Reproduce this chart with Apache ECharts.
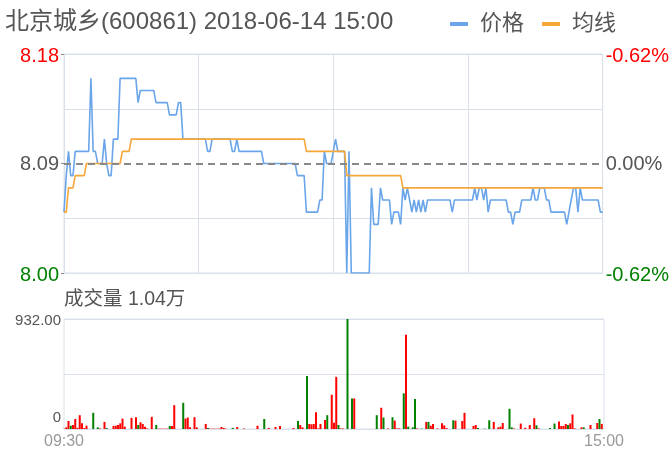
<!DOCTYPE html>
<html><head><meta charset="utf-8">
<script src="https://cdn.jsdelivr.net/npm/echarts@6/dist/echarts.min.js"></script>
<style>html,body{margin:0;padding:0;background:#fff}#c{width:672px;height:455px}</style>
</head><body><div id="c"></div>
<script>
const titleText = '北京城乡(600861) 2018-06-14 15:00';
const volumeTitle = '成交量 1.04万';
const seriesNames = ['价格', '均线'];
const prevClose = 8.09;
const priceMin = 8.00, priceMax = 8.18;
const priceTickLabels = ['8.00', '8.09', '8.18'];
const pctTickLabels = ['-0.62%', '0.00%', '-0.62%'];
const volMax = 932;
const volTickLabels = ['0', '', '932.00'];
const timeLabels = ['09:30', '15:00'];

// minute categories 09:30-11:30, 13:01-15:00
const times = [];
function pad(n){return (n<10?'0':'')+n;}
for (let m = 9*60+30; m <= 11*60+30; m++) times.push(pad(Math.floor(m/60))+':'+pad(m%60));
for (let m = 13*60+1; m <= 15*60; m++) times.push(pad(Math.floor(m/60))+':'+pad(m%60));

const price = [
8.05,8.08,8.10,8.08,8.08,8.10,8.10,8.10,8.10,8.10,
8.10,8.10,8.16,8.10,8.10,8.09,8.09,8.09,8.11,8.09,
8.08,8.08,8.11,8.11,8.11,8.16,8.16,8.16,8.16,8.16,
8.16,8.16,8.16,8.14,8.15,8.15,8.15,8.15,8.15,8.15,
8.15,8.14,8.14,8.14,8.14,8.14,8.14,8.13,8.13,8.13,
8.13,8.14,8.14,8.11,8.11,8.11,8.11,8.11,8.11,8.11,
8.11,8.11,8.11,8.11,8.10,8.10,8.11,8.11,8.11,8.11,
8.11,8.11,8.11,8.11,8.11,8.10,8.10,8.11,8.10,8.10,
8.10,8.10,8.10,8.10,8.10,8.10,8.10,8.10,8.10,8.09,
8.09,8.09,8.09,8.09,8.09,8.09,8.09,8.09,8.09,8.09,
8.09,8.09,8.09,8.09,8.08,8.08,8.08,8.08,8.05,8.05,
8.05,8.05,8.05,8.05,8.06,8.06,8.10,8.09,8.09,8.09,
8.10,8.11,8.10,8.10,8.10,8.10,8.00,8.10,8.00,8.00,
8.00,8.00,8.00,8.00,8.00,8.00,8.00,8.07,8.04,8.04,
8.04,8.07,8.06,8.06,8.06,8.06,8.04,8.05,8.05,8.05,
8.04,8.07,8.06,8.07,8.06,8.05,8.06,8.05,8.06,8.05,
8.06,8.05,8.06,8.06,8.06,8.06,8.06,8.06,8.06,8.06,
8.06,8.06,8.06,8.05,8.06,8.06,8.06,8.06,8.06,8.06,
8.06,8.06,8.06,8.07,8.06,8.07,8.07,8.06,8.07,8.05,
8.06,8.06,8.06,8.06,8.06,8.06,8.06,8.06,8.05,8.05,
8.04,8.05,8.05,8.05,8.06,8.06,8.06,8.06,8.06,8.07,
8.06,8.06,8.07,8.07,8.07,8.06,8.06,8.05,8.05,8.05,
8.05,8.05,8.05,8.05,8.04,8.05,8.06,8.07,8.07,8.05,
8.07,8.06,8.06,8.06,8.06,8.06,8.06,8.06,8.06,8.05,
8.05
];

const avgPrice = [
8.05,8.05,8.07,8.07,8.07,8.08,8.08,8.08,8.08,8.08,
8.09,8.09,8.09,8.09,8.09,8.09,8.09,8.09,8.09,8.09,
8.09,8.09,8.09,8.09,8.09,8.09,8.10,8.10,8.10,8.10,
8.11,8.11,8.11,8.11,8.11,8.11,8.11,8.11,8.11,8.11,
8.11,8.11,8.11,8.11,8.11,8.11,8.11,8.11,8.11,8.11,
8.11,8.11,8.11,8.11,8.11,8.11,8.11,8.11,8.11,8.11,
8.11,8.11,8.11,8.11,8.11,8.11,8.11,8.11,8.11,8.11,
8.11,8.11,8.11,8.11,8.11,8.11,8.11,8.11,8.11,8.11,
8.11,8.11,8.11,8.11,8.11,8.11,8.11,8.11,8.11,8.11,
8.11,8.11,8.11,8.11,8.11,8.11,8.11,8.11,8.11,8.11,
8.11,8.11,8.11,8.11,8.11,8.11,8.11,8.11,8.10,8.10,
8.10,8.10,8.10,8.10,8.10,8.10,8.10,8.10,8.10,8.10,
8.10,8.10,8.10,8.10,8.10,8.10,8.08,8.08,8.08,8.08,
8.08,8.08,8.08,8.08,8.08,8.08,8.08,8.08,8.08,8.08,
8.08,8.08,8.08,8.08,8.08,8.08,8.08,8.08,8.08,8.08,
8.08,8.07,8.07,8.07,8.07,8.07,8.07,8.07,8.07,8.07,
8.07,8.07,8.07,8.07,8.07,8.07,8.07,8.07,8.07,8.07,
8.07,8.07,8.07,8.07,8.07,8.07,8.07,8.07,8.07,8.07,
8.07,8.07,8.07,8.07,8.07,8.07,8.07,8.07,8.07,8.07,
8.07,8.07,8.07,8.07,8.07,8.07,8.07,8.07,8.07,8.07,
8.07,8.07,8.07,8.07,8.07,8.07,8.07,8.07,8.07,8.07,
8.07,8.07,8.07,8.07,8.07,8.07,8.07,8.07,8.07,8.07,
8.07,8.07,8.07,8.07,8.07,8.07,8.07,8.07,8.07,8.07,
8.07,8.07,8.07,8.07,8.07,8.07,8.07,8.07,8.07,8.07,
8.07
];

const volume = [
3,14,68,28,34,85,10,117,48,8,
28,0,0,137,0,14,5,0,60,8,
0,0,26,28,34,48,88,20,0,0,
94,0,100,34,57,43,20,5,0,103,
0,34,3,3,3,3,3,26,26,202,
0,0,0,222,88,97,14,0,100,14,
0,0,0,43,9,3,3,3,3,3,
17,9,3,0,0,9,0,17,0,0,
5,0,0,0,0,0,28,0,0,85,
0,9,0,0,17,0,26,0,0,0,
0,0,9,0,68,34,14,0,450,43,
40,43,142,5,43,0,77,117,0,290,
54,442,34,5,5,0,932,0,259,259,
0,0,0,0,0,0,0,0,0,117,
0,180,97,0,5,0,100,71,5,5,
0,302,798,20,0,14,254,5,0,3,
0,60,60,28,43,0,5,0,48,31,
8,0,0,74,71,0,0,68,137,0,
0,0,26,34,8,0,0,3,0,74,
0,60,0,14,20,51,0,0,171,14,
5,0,0,46,0,11,0,34,0,91,
31,5,0,0,0,0,9,0,46,0,
63,26,26,43,34,48,123,5,0,0,
14,14,0,0,34,0,0,51,85,43,
0
];
// minutes whose volume bar is a "down" (green) bar
const downBars = [3,13,15,19,33,41,47,53,64,75,89,104,108,117,122,126,128,139,142,146,151,153,155,156,159,162,173,184,187,189,198,199,210,216,218,224,231,238];

const FONT = "'Liberation Sans','Noto Sans CJK SC',sans-serif";
const GRIDC = '#dae0ea';
const BLUE = '#6aa5e9', ORANGE = '#f6a73a', RED = '#ff0000', GREEN = '#008000';

const chart = echarts.init(document.getElementById('c'), null, {renderer: 'canvas'});
const priceStyleKeys = ['g', 'n', 'r'];

const option = {
  animation: false,
  textStyle: {fontFamily: FONT},
  title: [
    {text: titleText, left: 0, top: 5, textStyle: {fontSize: 24, fontWeight: 'normal', color: '#555', fontFamily: FONT}},
    {text: volumeTitle, left: 59, top: 285, textStyle: {fontSize: 19.5, fontWeight: 'normal', color: '#555', fontFamily: FONT}}
  ],
  legend: {
    data: seriesNames, left: 445, top: 8, icon: 'rect', itemWidth: 18, itemHeight: 4, itemGap: 18,
    textStyle: {fontSize: 22, color: '#555', fontFamily: FONT, padding: [0, 0, 0, 7]}
  },
  grid: [
    {left: 64, right: 68, top: 54, height: 219, show: true, borderColor: GRIDC, borderWidth: 1},
    {left: 64, right: 68, top: 319, height: 110, show: true, borderColor: GRIDC, borderWidth: 1}
  ],
  xAxis: [
    {type: 'category', gridIndex: 0, data: times, boundaryGap: false,
     axisLine: {show: false}, axisTick: {show: false}, axisLabel: {show: false},
     splitLine: {show: true, interval: 59, lineStyle: {color: GRIDC}}},
    {type: 'category', gridIndex: 1, data: times, boundaryGap: false,
     axisLine: {show: false}, axisTick: {show: false}, splitLine: {show: false},
     axisLabel: {show: true, interval: (i, v) => timeLabels.indexOf(v) >= 0, color: '#999', fontSize: 16, margin: 5, fontFamily: FONT}}
  ],
  yAxis: [
    {type: 'value', gridIndex: 0, min: priceMin, max: priceMax, show: false},
    {type: 'value', gridIndex: 0, position: 'left', min: 0, max: 2, interval: 1,
     axisLine: {show: false}, splitLine: {show: false},
     axisTick: {show: true, length: 3, lineStyle: {color: '#888'}},
     axisLabel: {margin: 5, fontSize: 20, fontFamily: FONT,
       formatter: (v, i) => '{' + priceStyleKeys[i] + '|' + priceTickLabels[i] + '}',
       rich: {g: {color: GREEN, fontSize: 20, padding: [4,0,0,0]}, n: {color: '#555', fontSize: 20, padding: [2,0,0,0]}, r: {color: RED, fontSize: 20, padding: [4,0,0,0]}}}},
    {type: 'value', gridIndex: 0, position: 'right', min: 0, max: 2, interval: 1,
     axisLine: {show: false}, splitLine: {show: false}, axisTick: {show: false},
     axisLabel: {margin: 3, fontSize: 20, fontFamily: FONT,
       formatter: (v, i) => '{' + priceStyleKeys[i] + '|' + pctTickLabels[i] + '}',
       rich: {g: {color: GREEN, fontSize: 20, padding: [4,0,0,0]}, n: {color: '#555', fontSize: 20, padding: [2,0,0,0]}, r: {color: RED, fontSize: 20, padding: [4,0,0,0]}}}},
    {type: 'value', gridIndex: 0, position: 'left', min: 0, max: 4, interval: 1,
     axisLine: {show: false}, axisTick: {show: false}, axisLabel: {show: false},
     splitLine: {show: true, lineStyle: {color: [GRIDC, GRIDC, 'rgba(0,0,0,0)', GRIDC, GRIDC]}}},
    {type: 'value', gridIndex: 1, position: 'left', min: 0, max: volMax, interval: volMax / 2,
     axisLine: {show: false}, axisTick: {show: false},
     splitLine: {show: true, lineStyle: {color: GRIDC}},
     axisLabel: {margin: 3, fontSize: 15, color: '#555', fontFamily: FONT,
       formatter: (v, i) => volTickLabels[i] ? ('{' + (i === 0 ? 'b' : 't') + '|' + volTickLabels[i] + '}') : '',
       rich: {b: {fontSize: 15, color: '#555', padding: [0,0,22,0]}, t: {fontSize: 15, color: '#555', padding: [4,0,0,0]}}}}
  ],
  series: [
    {name: seriesNames[0], type: 'line', xAxisIndex: 0, yAxisIndex: 0, data: price,
     showSymbol: false, symbol: 'none', lineStyle: {color: BLUE, width: 1.6}, itemStyle: {color: BLUE},
     markLine: {silent: true, symbol: ['none', 'none'], label: {show: false},
       lineStyle: {color: '#888', type: [7, 5], width: 2}, data: [{yAxis: prevClose}]}},
    {name: seriesNames[1], type: 'line', xAxisIndex: 0, yAxisIndex: 0, data: avgPrice,
     showSymbol: false, symbol: 'none', lineStyle: {color: ORANGE, width: 1.6}, itemStyle: {color: ORANGE}},
    {name: 'vol', type: 'bar', xAxisIndex: 1, yAxisIndex: 4, barWidth: 2,
     data: volume.map((v, i) => ({value: v, itemStyle: {color: downBars.indexOf(i) >= 0 ? GREEN : RED}}))}
  ]
};
chart.setOption(option);
</script>
</body></html>
